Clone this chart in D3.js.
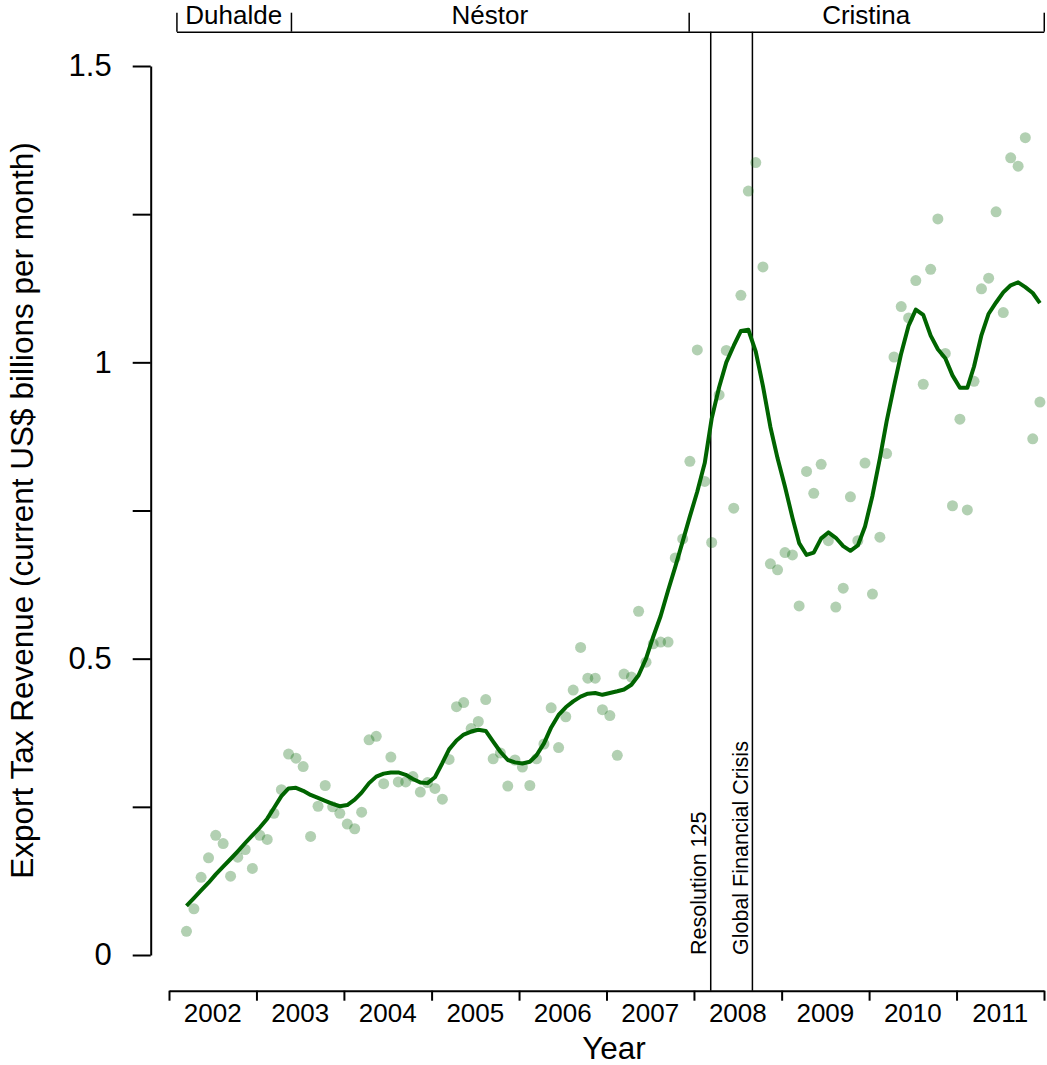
<!DOCTYPE html>
<html>
<head>
<meta charset="utf-8">
<script src="https://cdn.jsdelivr.net/npm/d3@7"></script>
<style>
body { margin: 0; background: #fff; }
svg { font-family: "Liberation Sans", Arial, Helvetica, sans-serif; }
</style>
</head>
<body>
<div class="chart"></div>
<script>
// monthly export tax revenue, first value is March 2002
const firstYear = 2002
const firstMonth = 3
const revenue = [
  0.040, 0.078, 0.131, 0.164, 0.202, 0.188, 0.133, 0.165, 0.178, 0.146,
  0.202, 0.195, 0.239, 0.279, 0.339, 0.332, 0.318, 0.200, 0.251, 0.286,
  0.250, 0.239, 0.221, 0.213, 0.241, 0.363, 0.369, 0.289, 0.334, 0.292,
  0.292, 0.301, 0.275, 0.291, 0.281, 0.263, 0.330, 0.419, 0.426, 0.382,
  0.394, 0.431, 0.331, 0.341, 0.285, 0.329, 0.317, 0.286, 0.331, 0.356,
  0.417, 0.350, 0.402, 0.447, 0.519, 0.467, 0.467, 0.414, 0.404, 0.337,
  0.474, 0.469, 0.580, 0.494, 0.525, 0.528, 0.528, 0.670, 0.702, 0.833,
  1.021, 0.799, 0.696, 0.945, 1.020, 0.754, 1.113, 1.289, 1.337, 1.161,
  0.660, 0.650, 0.679, 0.675, 0.589, 0.816, 0.779, 0.828, 0.699, 0.587,
  0.619, 0.773, 0.699, 0.830, 0.609, 0.705, 0.846, 1.009, 1.094, 1.075,
  1.138, 0.963, 1.157, 1.242, 1.015, 0.758, 0.904, 0.751, 0.968, 1.124,
  1.142, 1.254, 1.084, 1.345, 1.331, 1.379, 0.871, 0.933
]
// smoothed trend, same months
const trend = [
  0.083, 0.096, 0.109, 0.122, 0.136, 0.149, 0.162, 0.175, 0.189, 0.202,
  0.215, 0.230, 0.248, 0.268, 0.281, 0.282, 0.277, 0.270, 0.265, 0.260,
  0.255, 0.251, 0.253, 0.262, 0.274, 0.290, 0.301, 0.306, 0.308, 0.308,
  0.304, 0.297, 0.291, 0.290, 0.300, 0.324, 0.347, 0.362, 0.372, 0.377,
  0.380, 0.378, 0.360, 0.343, 0.329, 0.325, 0.323, 0.326, 0.337, 0.357,
  0.384, 0.405, 0.418, 0.428, 0.436, 0.441, 0.442, 0.439, 0.442, 0.445,
  0.448, 0.456, 0.472, 0.500, 0.537, 0.572, 0.615, 0.655, 0.698, 0.740,
  0.782, 0.830, 0.905, 0.958, 1.000, 1.028, 1.053, 1.055, 1.018, 0.960,
  0.891, 0.838, 0.790, 0.738, 0.695, 0.675, 0.679, 0.703, 0.713, 0.704,
  0.690, 0.682, 0.691, 0.723, 0.775, 0.838, 0.900, 0.960, 1.015, 1.062,
  1.089, 1.080, 1.045, 1.022, 1.007, 0.978, 0.957, 0.957, 0.993, 1.046,
  1.082, 1.101, 1.118, 1.130, 1.135, 1.127, 1.117, 1.100
]

const years = [2002, 2003, 2004, 2005, 2006, 2007, 2008, 2009, 2010, 2011]
const yTicks = [0, 0.25, 0.5, 0.75, 1, 1.25, 1.5]
const yLabels = [0, 0.5, 1, 1.5]

const termNames = ["Duhalde", "Néstor", "Cristina"]
const termBounds = ["2002-02-01", "2003-05-25", "2007-12-10", "2011-12-31"]

const eventNames = ["Resolution 125", "Global Financial Crisis"]
const eventDates = ["2008-03-11", "2008-09-01"]

const W = 1047, H = 1065
const green = "#006400"

const parse = d3.utcParse("%Y-%m-%d")
const months = revenue.map((v, i) => new Date(Date.UTC(firstYear, firstMonth - 1 + i, 15)))

const x = d3.scaleUtc()
    .domain([new Date(Date.UTC(2002, 0, 1)), new Date(Date.UTC(2012, 0, 1))])
    .range([169, 1044])
const y = d3.scaleLinear().domain([0, 1.5]).range([955, 66])

const svg = d3.select(".chart").append("svg")
    .attr("width", W)
    .attr("height", H)

// x axis: year boundaries, labels between them
const yearStarts = years.concat([2012]).map(yr => new Date(Date.UTC(yr, 0, 1)))
const xAxis = svg.append("g")
    .attr("transform", "translate(0,990.7)")
    .call(d3.axisBottom(x).tickValues(yearStarts).tickSize(10).tickSizeOuter(0).tickFormat(""))
xAxis.selectAll("path, line").attr("stroke", "#000").attr("stroke-width", 2)

svg.append("g").selectAll("text")
    .data(years)
    .enter().append("text")
    .attr("x", d => (x(new Date(Date.UTC(d, 0, 1))) + x(new Date(Date.UTC(d + 1, 0, 1)))) / 2)
    .attr("y", 1022)
    .attr("text-anchor", "middle")
    .attr("font-size", 26)
    .text(d => d)

// y axis
const yAxis = svg.append("g")
    .attr("transform", "translate(150.7,0)")
    .call(d3.axisLeft(y).tickValues(yTicks).tickSize(18).tickSizeOuter(0).tickPadding(21)
        .tickFormat(d => yLabels.includes(d) ? d3.format("")(d) : ""))
yAxis.selectAll("path, line").attr("stroke", "#000").attr("stroke-width", 2)
yAxis.selectAll("text").attr("font-size", 31).attr("fill", "#000")
    .attr("font-family", "Liberation Sans, Arial, sans-serif")

svg.append("text")
    .attr("transform", "translate(33,510.5) rotate(-90)")
    .attr("text-anchor", "middle")
    .attr("font-size", 31.5)
    .text("Export Tax Revenue (current US$ billions per month)")

svg.append("text")
    .attr("x", 614)
    .attr("y", 1059)
    .attr("text-anchor", "middle")
    .attr("font-size", 31.5)
    .text("Year")

// presidential terms along the top
const terms = termBounds.map(parse)
const topAxis = svg.append("g")
    .attr("transform", "translate(0,31.7)")
    .call(d3.axisTop(d3.scaleUtc().domain([terms[0], terms[terms.length - 1]])
            .range([x(terms[0]), x(terms[terms.length - 1])]))
        .tickValues(terms).tickSize(19).tickSizeOuter(0).tickFormat(""))
topAxis.selectAll("path, line").attr("stroke", "#000").attr("stroke-width", 1.5)

svg.append("g").selectAll("text")
    .data(termNames)
    .enter().append("text")
    .attr("x", (d, i) => (x(terms[i]) + x(terms[i + 1])) / 2)
    .attr("y", 24)
    .attr("text-anchor", "middle")
    .attr("font-size", 26)
    .text(d => d)

// policy events
const events = eventDates.map(parse)
svg.append("g").selectAll("line")
    .data(events)
    .enter().append("line")
    .attr("x1", d => x(d))
    .attr("x2", d => x(d))
    .attr("y1", 31.7)
    .attr("y2", 990.7)
    .attr("stroke", "#000")
    .attr("stroke-width", 1.5)

svg.append("g").selectAll("text")
    .data(eventNames)
    .enter().append("text")
    .attr("transform", (d, i) => `translate(${x(events[i]) - 4.5},${y(0)}) rotate(-90)`)
    .attr("font-size", 21.5)
    .text(d => d)

// monthly points
svg.append("g").selectAll("circle")
    .data(revenue)
    .enter().append("circle")
    .attr("cx", (d, i) => x(months[i]))
    .attr("cy", d => y(d))
    .attr("r", 5.5)
    .attr("fill", green)
    .attr("fill-opacity", 0.3)

// smoothed line
const line = d3.line()
    .x((d, i) => x(months[i]))
    .y(d => y(d))

svg.append("path")
    .datum(trend)
    .attr("d", line)
    .attr("fill", "none")
    .attr("stroke", green)
    .attr("stroke-width", 4)
    .attr("stroke-linejoin", "round")
</script>
</body>
</html>
